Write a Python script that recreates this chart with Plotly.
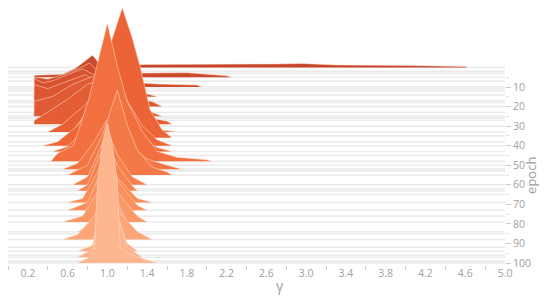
import plotly.graph_objects as go
from plotly.colors import sample_colorscale

# epochs that have a (mostly flat) histogram slice -> light grey baselines
baseline_epochs = [0, 2, 3, 5, 7, 10, 11, 12, 14, 17, 18, 20, 23, 25, 26, 27, 30, 33, 35,
                   38, 40, 43, 45, 48, 50, 52, 53, 55, 60, 62, 63, 65, 69, 73, 76, 79, 84,
                   85, 88, 92, 94, 96, 97, 99, 100]

# histogram slices: gamma values and heights (px-ish density)
x_e00 = [0.9, 1.0, 1.4, 2.0, 2.7, 2.95, 3.3, 4.0, 4.5, 4.6, 4.62]
h_e00 = [0, 2, 3, 3, 3.5, 4, 2.5, 2, 1.5, 1, 0]
x_e05 = [0.26, 0.265, 0.55, 0.68, 0.85, 0.95, 1.1, 1.4, 1.8, 2.2, 2.25]
h_e05 = [0, 2, 3, 9, 22, 10, 4, 4, 4.5, 1.5, 0]
x_e10 = [0.26, 0.265, 0.4, 0.55, 0.7, 0.82, 0.95, 1.2, 1.5, 1.9, 1.95]
h_e10 = [0, 10, 8, 12, 18, 24, 12, 5, 3, 2, 0]
x_e15 = [0.26, 0.265, 0.35, 0.45, 0.6, 0.75, 0.9, 1.1, 1.4, 1.5]
h_e15 = [0, 18, 14, 16, 22, 28, 20, 8, 3, 0]
x_e20 = [0.26, 0.265, 0.4, 0.6, 0.78, 0.95, 1.2, 1.45, 1.55]
h_e20 = [0, 22, 18, 25, 32, 20, 8, 5, 0]
x_e25 = [0.26, 0.265, 0.45, 0.65, 0.85, 1.0, 1.2, 1.45, 1.55]
h_e25 = [0, 15, 20, 32, 40, 25, 10, 4, 0]
x_e29 = [0.26, 0.265, 0.4, 0.6, 0.8, 0.95, 1.1, 1.35, 1.6, 1.65]
h_e29 = [0, 4, 12, 25, 40, 45, 25, 8, 3, 0]
x_e33 = [0.4, 0.55, 0.75, 0.9, 1.05, 1.2, 1.4, 1.55, 1.7]
h_e33 = [0, 8, 25, 40, 35, 15, 5, 2, 0]
x_e36 = [0.6, 0.75, 0.92, 1.05, 1.15, 1.25, 1.33, 1.43, 1.55, 1.65]
h_e36 = [0, 20, 60, 100, 130, 100, 71, 28, 8, 0]
x_e40 = [0.35, 0.5, 0.7, 0.9, 1.05, 1.2, 1.35, 1.5, 1.6, 1.65]
h_e40 = [0, 4, 20, 50, 70, 45, 20, 6, 2, 0]
x_e43 = [0.45, 0.6, 0.8, 1.0, 1.15, 1.35, 1.5, 1.65]
h_e43 = [0, 5, 25, 60, 40, 15, 4, 0]
x_e48 = [0.43, 0.5, 0.66, 0.81, 0.92, 1.0, 1.1, 1.2, 1.35, 1.5, 1.7, 2.0, 2.05]
h_e48 = [0, 8, 16, 61, 106, 138, 95, 60, 30, 10, 4, 1.5, 0]
x_e52 = [0.55, 0.7, 0.85, 1.0, 1.15, 1.4, 1.6, 1.75]
h_e52 = [0, 6, 25, 50, 30, 10, 4, 0]
x_e55 = [0.6, 0.8, 0.95, 1.1, 1.2, 1.3, 1.45, 1.6, 1.65]
h_e55 = [0, 10, 40, 85, 50, 25, 8, 3, 0]
x_e60 = [0.65, 0.8, 0.9, 1.0, 1.1, 1.25, 1.4]
h_e60 = [0, 8, 30, 55, 30, 8, 0]
x_e63 = [0.7, 0.8, 0.92, 1.0, 1.1, 1.25, 1.3]
h_e63 = [0, 6, 35, 50, 25, 5, 0]
x_e69 = [0.6, 0.75, 0.9, 1.0, 1.1, 1.3, 1.45]
h_e69 = [0, 4, 30, 55, 25, 4, 0]
x_e73 = [0.6, 0.8, 0.92, 1.0, 1.1, 1.3, 1.4]
h_e73 = [0, 8, 35, 60, 30, 5, 0]
x_e79 = [0.55, 0.75, 0.9, 1.0, 1.1, 1.3, 1.4]
h_e79 = [0, 6, 30, 60, 30, 6, 0]
x_e84 = [0.7, 0.85, 0.95, 1.0, 1.1, 1.2, 1.3]
h_e84 = [0, 8, 35, 60, 30, 8, 0]
x_e88 = [0.55, 0.7, 0.88, 1.0, 1.1, 1.3, 1.45]
h_e88 = [0, 5, 25, 70, 30, 8, 0]
x_e94 = [0.7, 0.85, 0.92, 1.0, 1.08, 1.2, 1.3]
h_e94 = [0, 6, 40, 80, 40, 8, 0]
x_e97 = [0.7, 0.85, 0.92, 1.0, 1.08, 1.2, 1.35]
h_e97 = [0, 8, 50, 100, 50, 10, 0]
x_e100 = [0.7, 0.8, 0.87, 0.9, 0.95, 1.0, 1.05, 1.1, 1.13, 1.25, 1.4, 1.5]
h_e100 = [0, 5, 13, 80, 120, 140, 118, 80, 15, 8, 3, 0]

slices = [
    (0, x_e00, h_e00), (5, x_e05, h_e05), (10, x_e10, h_e10), (15, x_e15, h_e15),
    (20, x_e20, h_e20), (25, x_e25, h_e25), (29, x_e29, h_e29), (33, x_e33, h_e33),
    (36, x_e36, h_e36), (40, x_e40, h_e40), (43, x_e43, h_e43), (48, x_e48, h_e48),
    (52, x_e52, h_e52), (55, x_e55, h_e55), (60, x_e60, h_e60), (63, x_e63, h_e63),
    (69, x_e69, h_e69), (73, x_e73, h_e73), (79, x_e79, h_e79), (84, x_e84, h_e84),
    (88, x_e88, h_e88), (94, x_e94, h_e94), (97, x_e97, h_e97), (100, x_e100, h_e100),
]

PX_PER_EPOCH = 1.955  # vertical pixels per epoch step, turns heights into axis units
scale = [[0, "#c8452b"], [0.4, "#ef6637"], [0.7, "#f98c58"], [1, "#fdb68e"]]
grey = "#ebebeb"

fig = go.Figure()

for e in baseline_epochs:
    fig.add_trace(go.Scatter(x=[0, 5], y=[e, e], mode="lines",
                             line=dict(color=grey, width=1.6),
                             hoverinfo="skip", showlegend=False))

for e, xs, hs in slices:
    col = sample_colorscale(scale, [e / 100])[0]
    ys = [e - h / PX_PER_EPOCH for h in hs]
    fig.add_trace(go.Scatter(x=xs, y=ys, mode="lines", fill="toself", fillcolor=col,
                             line=dict(color="rgba(255,225,205,0.75)", width=0.7),
                             hoverinfo="skip", showlegend=False))

xlabels = [0.2, 0.6, 1.0, 1.4, 1.8, 2.2, 2.6, 3.0, 3.4, 3.8, 4.2, 4.6, 5.0]
ylabels = [10, 20, 30, 40, 50, 60, 70, 80, 90, 100]

# page body keeps its 8px margin, so the figure is sized to fit the window after it
fig.update_layout(
    width=542, height=291,
    margin=dict(l=0, r=45, t=0, b=34),
    paper_bgcolor="white", plot_bgcolor="white",
    font=dict(family="Open Sans", size=10.5, color="#a0a0a0"),
    xaxis=dict(range=[0, 5], tickvals=xlabels, ticktext=["%.1f" % v for v in xlabels],
               ticks="", showgrid=False, zeroline=False, showline=False,
               minor=dict(tickvals=[0, 0.4, 0.8, 1.2, 1.6, 2.0, 2.4, 2.8, 3.2, 3.6, 4.0, 4.4, 4.8],
                          ticks="outside", ticklen=4, tickcolor="#cccccc", showgrid=False)),
    yaxis=dict(range=[101.0, -30.4], side="right", tickvals=ylabels, ticks="outside",
               ticklen=5, tickcolor="#cccccc", showgrid=False, zeroline=False, showline=False,
               minor=dict(tickvals=[5, 15, 25, 35, 45, 55, 65, 75, 85, 95],
                          ticks="outside", ticklen=3, tickcolor="#dddddd", showgrid=False)),
    annotations=[
        dict(text="γ", x=2.74, y=-0.078, xref="x", yref="paper", showarrow=False,
             font=dict(size=14, color="#a0a0a0"), xanchor="center", yanchor="middle"),
        dict(text="epoch", x=1.052, y=0.35, xref="paper", yref="paper", showarrow=False,
             textangle=-90, font=dict(size=13, color="#a0a0a0"),
             xanchor="center", yanchor="middle"),
    ],
)

fig.write_html("out.html")
